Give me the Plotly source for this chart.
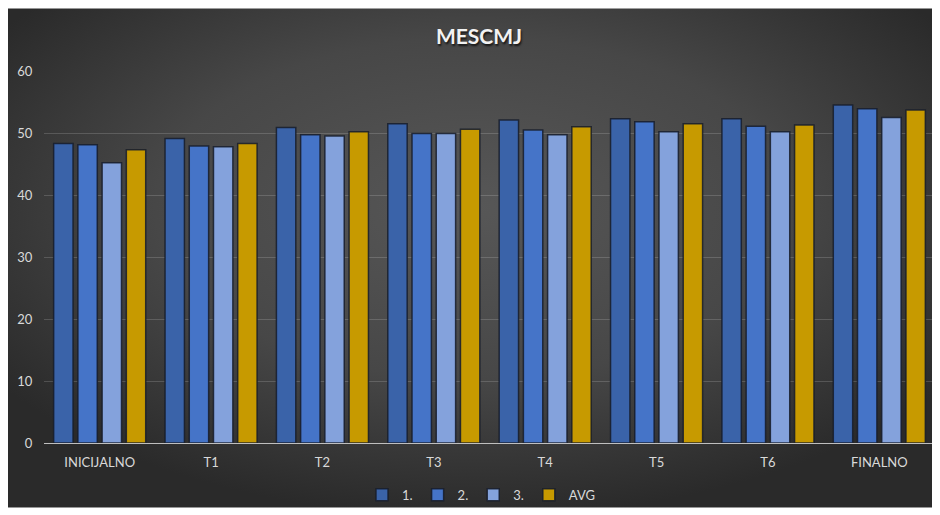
import plotly.graph_objects as go
import base64

categories = ["INICIJALNO", "T1", "T2", "T3", "T4", "T5", "T6", "FINALNO"]
series_names = ["1.", "2.", "3.", "AVG"]
s1 = [48.3, 49.1, 50.9, 51.5, 52.1, 52.3, 52.3, 54.5]
s2 = [48.1, 47.9, 49.7, 49.9, 50.5, 51.8, 51.1, 53.9]
s3 = [45.2, 47.8, 49.5, 49.9, 49.7, 50.2, 50.2, 52.5]
avg = [47.3, 48.3, 50.2, 50.6, 51.0, 51.5, 51.3, 53.7]
colors = ["#3a63a9", "#4574c8", "#84a2dc", "#c79a00"]
y_ticks = [0, 10, 20, 30, 40, 50, 60]

# page has an 8px body margin; figure coordinates = reference - 8
OFF = 8
W, H = 932, 507
ml, mt = 44 - OFF, 71 - OFF
pw, ph = 935 - 44, 445 - 71
mr = W - ml - pw
mb = H - mt - ph

bg_w, bg_h = W + 1, 502
svg = (
    f'<svg xmlns="http://www.w3.org/2000/svg" width="{bg_w}" height="{bg_h}" '
    f'viewBox="0 0 {bg_w} {bg_h}" preserveAspectRatio="none">'
    '<defs><radialGradient id="g" cx="50%" cy="40%" r="62%">'
    '<stop offset="0%" stop-color="#575757"/>'
    '<stop offset="55%" stop-color="#474747"/>'
    '<stop offset="100%" stop-color="#2a2a2a"/>'
    '</radialGradient></defs>'
    f'<rect width="{bg_w}" height="{bg_h}" fill="url(#g)"/></svg>'
)
src = "data:image/svg+xml;base64," + base64.b64encode(svg.encode()).decode()

fig = go.Figure()
for name, vals, col in zip(series_names, [s1, s2, s3, avg], colors):
    fig.add_trace(go.Bar(
        x=categories, y=vals, name=name,
        marker=dict(color=col, line=dict(color="rgba(22,28,42,0.85)", width=1.5)),
    ))

font_family = "Lato, 'Open Sans', sans-serif"
fig.update_layout(
    width=W, height=H,
    margin=dict(l=ml, r=mr, t=mt, b=mb),
    paper_bgcolor="white",
    plot_bgcolor="rgba(0,0,0,0)",
    barmode="group",
    bargap=0.13,
    bargroupgap=0.2,
    font=dict(family=font_family, color="#d9d9d9", size=13),
    title=dict(
        text="<b>MESCMJ</b>",
        font=dict(size=21, color="#f2f2f2", family=font_family,
                  shadow="1px 2px 2px rgba(0,0,0,0.7)"),
        x=(479 - 44) / pw, xref="paper", xanchor="center",
        y=1 - (37 - OFF) / H, yref="container", yanchor="middle",
    ),
    legend=dict(
        orientation="h", x=(481 - 44) / pw, xanchor="center",
        y=(445 - 497) / ph, yanchor="middle",
        font=dict(size=13, color="#d9d9d9"),
        bgcolor="rgba(0,0,0,0)", itemwidth=30, tracegroupgap=0,
    ),
    images=[dict(
        source=src, xref="paper", yref="paper",
        x=(-1 - ml) / pw, y=(mt + ph) / ph,
        sizex=bg_w / pw, sizey=bg_h / ph,
        xanchor="left", yanchor="top", sizing="stretch", layer="below",
    )],
    showlegend=True,
)
fig.update_xaxes(
    showgrid=False, showline=True, linecolor="#bfbfbf", linewidth=1,
    ticks="outside", ticklen=7, tickcolor="rgba(0,0,0,0)",
    tickfont=dict(size=13, color="#d9d9d9"),
)
fig.update_yaxes(
    range=[0, 60], tickvals=y_ticks, showgrid=True,
    gridcolor="rgba(255,255,255,0.16)", gridwidth=1, zeroline=False,
    tickfont=dict(size=13, color="#d9d9d9"),
    ticks="outside", ticklen=8, tickcolor="rgba(0,0,0,0)",
)

fig.write_html("out.html")
